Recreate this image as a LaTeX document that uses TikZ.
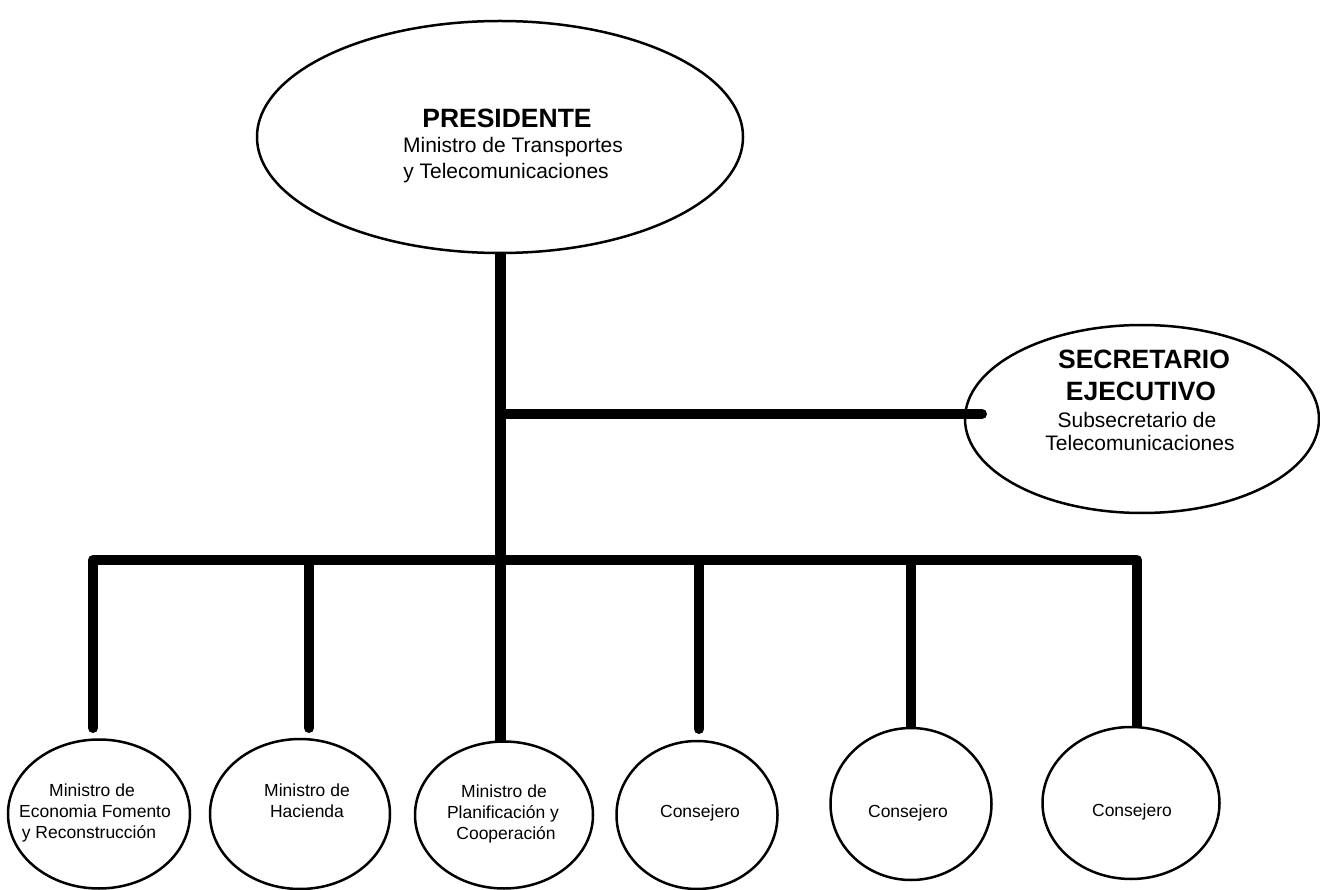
\documentclass[tikz,border=0pt]{standalone}
\usepackage{fontspec}
\setmainfont{Liberation Sans}
\usetikzlibrary{shapes.geometric,backgrounds}
\pgfdeclarelayer{paper}
\pgfsetlayers{paper,background,main}
\begin{document}
\begin{tikzpicture}[x=1pt,y=-1pt,
  org/.style={ellipse, draw, line width=2.5pt, fill=white, inner sep=0pt},
  conn/.style={line width=10pt, line cap=round, line join=round},
  ttl/.style={anchor=base, inner sep=0pt, font=\fontsize{26.5}{30}\selectfont\bfseries},
  sub/.style={anchor=base, inner sep=0pt, font=\fontsize{21}{25}\selectfont},
  sml/.style={anchor=base, inner sep=0pt, font=\fontsize{17.5}{21}\selectfont}]
\begin{pgfonlayer}{paper}
\fill[white] (0,0) rectangle (1320,890);
\end{pgfonlayer}
\useasboundingbox (0,0) rectangle (1320,890);

% ellipses
\node[org, minimum width=486pt, minimum height=232pt] (pres) at (500,137) {};
\node[org, minimum width=354pt, minimum height=188pt] (sec) at (1142,419) {};
\node[org, minimum width=182pt, minimum height=149pt] (c1) at (99,814) {};
\node[org, minimum width=180pt, minimum height=150pt] (c2) at (300,814) {};
\node[org, minimum width=178pt, minimum height=147pt] (c3) at (504,815) {};
\node[org, minimum width=161pt, minimum height=148pt] (c4) at (697,815) {};
\node[org, minimum width=161pt, minimum height=152pt] (c5) at (911,804) {};
\node[org, minimum width=177pt, minimum height=152pt] (c6) at (1131,803) {};

% connectors
\coordinate (barL) at (93,560);
\coordinate (barR) at (1137,560);
\coordinate (v1) at (93,728);
\coordinate (v2) at (309,728);
\coordinate (v4) at (699,729);
\coordinate (secend) at (982,414);
\begin{pgfonlayer}{background}
\draw[conn] (v1) -- (barL) -- (barR) -- (barR |- c6.north);
\draw[conn] (v2 |- barL) -- (v2);
\draw[conn] (v4 |- barL) -- (v4);
\draw[conn] (c5.north |- barL) -- (c5.north);
\draw[conn, line width=11pt] (pres.south) -- (pres.south |- c3.north);
\end{pgfonlayer}
\draw[conn] (pres.south |- secend) -- (secend);

% texts
\node[ttl] (presT) at (507,128) {PRESIDENTE};
\node[sub] (presA) at (513,153) {Ministro de Transportes};
\node[sub] (presB) at (506,179) {y Telecomunicaciones};

\node[ttl] (secT1) at (1144,369) {SECRETARIO};
\node[ttl] (secT2) at (1141,401) {EJECUTIVO};
\node[sub] (secA) at (1137,428) {Subsecretario de};
\node[sub] (secB) at (1140,450) {Telecomunicaciones};

\node[sml] (c1a) at (92,796) {Ministro de};
\node[sml] (c1b) at (95,817) {Economia Fomento};
\node[sml] (c1c) at (89,838) {y Reconstrucción};
\node[sml] (c2a) at (307,796) {Ministro de};
\node[sml] (c2b) at (307,817) {Hacienda};
\node[sml] (c3a) at (504,797) {Ministro de};
\node[sml] (c3b) at (503,818) {Planificación y};
\node[sml] (c3c) at (506,839) {Cooperación};
\node[sml] (c4a) at (700,817) {Consejero};
\node[sml] (c5a) at (908,817) {Consejero};
\node[sml] (c6a) at (1132,816) {Consejero};
\end{tikzpicture}
\end{document}
